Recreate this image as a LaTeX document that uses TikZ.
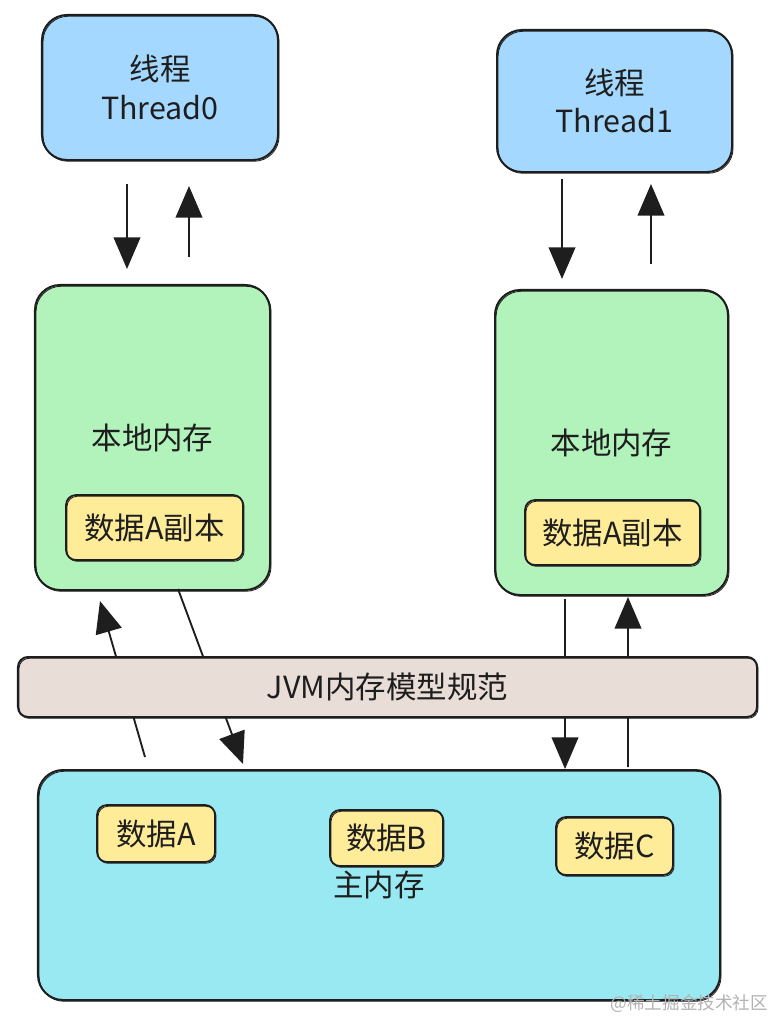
\documentclass[tikz,border=0pt]{standalone}
\usepackage{fontspec}
\setmainfont{Noto Sans CJK SC}
\usetikzlibrary{shapes,arrows.meta,positioning}
\definecolor{threadblue}{RGB}{165, 216, 255}
\definecolor{localgreen}{RGB}{178, 242, 187}
\definecolor{copyyellow}{RGB}{255, 236, 153}
\definecolor{maincyan}{RGB}{153, 233, 242}
\definecolor{specrose}{RGB}{233, 221, 216}
\definecolor{inkgray}{RGB}{30, 30, 30}

\begin{document}
\begin{tikzpicture}[
    x=0.03cm, y=-0.03cm,
    >=Stealth,
    font=\fontsize{26}{33}\selectfont,
    box/.style={rectangle, rounded corners=0.75cm, draw=inkgray, line width=1.7pt, text=inkgray, align=center, inner sep=0pt,
        postaction={draw=inkgray, line width=0.7pt, transform canvas={shift={(0.9pt,-1.1pt)}}}},
    thread/.style={box, fill=threadblue},
    local/.style={box, fill=localgreen},
    mainmem/.style={box, fill=maincyan},
    spec/.style={box, fill=specrose, rounded corners=0.3cm},
    datum/.style={box, fill=copyyellow, rounded corners=0.3cm, line width=1.5pt},
    flow/.style={draw=inkgray, line width=1.6pt, -{Triangle[length=0.95cm, width=0.8cm]}}
]
\useasboundingbox (0,0) rectangle (777,1019);

% threads
\node [thread, minimum width=7.08cm, minimum height=4.35cm] (t0) at (160,87.5) {线程\\Thread0};
\node [thread, minimum width=7.05cm, minimum height=4.26cm] (t1) at (614.5,101) {线程\\Thread1};

% local memories
\node [local, minimum width=7.05cm, minimum height=9.15cm] (l0) at (152.5,437.5) {本地内存};
\node [local, minimum width=6.99cm, minimum height=9.15cm] (l1) at (611.5,442.5) {本地内存};
\node [datum, minimum width=5.31cm, minimum height=1.95cm] (c0) at (154.5,527.5) {数据A副本};
\node [datum, minimum width=5.25cm, minimum height=1.95cm] (c1) at (612.5,532.5) {数据A副本};

% main memory
\node [mainmem, minimum width=20.46cm, minimum height=6.9cm] (mem) at (379,885) {主内存};
\node [datum, minimum width=3.54cm, minimum height=1.71cm] (da) at (156,833.5) {数据A};
\node [datum, minimum width=3.39cm, minimum height=1.68cm] (db) at (386.5,838) {数据B};
\node [datum, minimum width=3.51cm, minimum height=1.74cm] (dc) at (614.5,846) {数据C};

% thread <-> local
\draw [flow] ([xshift=-0.99cm, yshift=-0.69cm]t0.south) -- ([xshift=-0.99cm, yshift=0.45cm]t0.south |- l0.north);
\draw [flow] ([xshift=0.87cm, yshift=0.81cm]t0.south |- l0.north) -- ([xshift=0.87cm, yshift=-0.75cm]t0.south);
\draw [flow] ([xshift=-1.575cm, yshift=-0.18cm]t1.south) -- ([xshift=-1.575cm, yshift=0.3cm]t1.south |- l1.north);
\draw [flow] ([xshift=1.095cm, yshift=0.75cm]t1.south |- l1.north) -- ([xshift=1.095cm, yshift=-0.33cm]t1.south);

% local <-> main
\draw [flow] ([xshift=-7.02cm, yshift=0.36cm]mem.north) -- ([xshift=-1.575cm, yshift=-0.3cm]l0.south);
\draw [flow] ([xshift=0.765cm, yshift=0.06cm]l0.south) -- ([xshift=-4.08cm, yshift=0.15cm]mem.north);
\draw [flow] ([xshift=-1.395cm, yshift=-0.09cm]l1.south) -- ([xshift=5.58cm]mem.north);
\draw [flow] ([xshift=7.47cm, yshift=0.06cm]mem.north) -- ([xshift=0.495cm, yshift=-0.03cm]l1.south);

% spec bar on top of the arrows
\node [spec, minimum width=22.17cm, minimum height=1.8cm] (jvm) at (387.5,687) {JVM内存模型规范};

\node [text=black!30, font=\fontsize{15}{18}\selectfont, anchor=east] (mark) at (772,1004) {@稀土掘金技术社区};
\end{tikzpicture}
\end{document}
